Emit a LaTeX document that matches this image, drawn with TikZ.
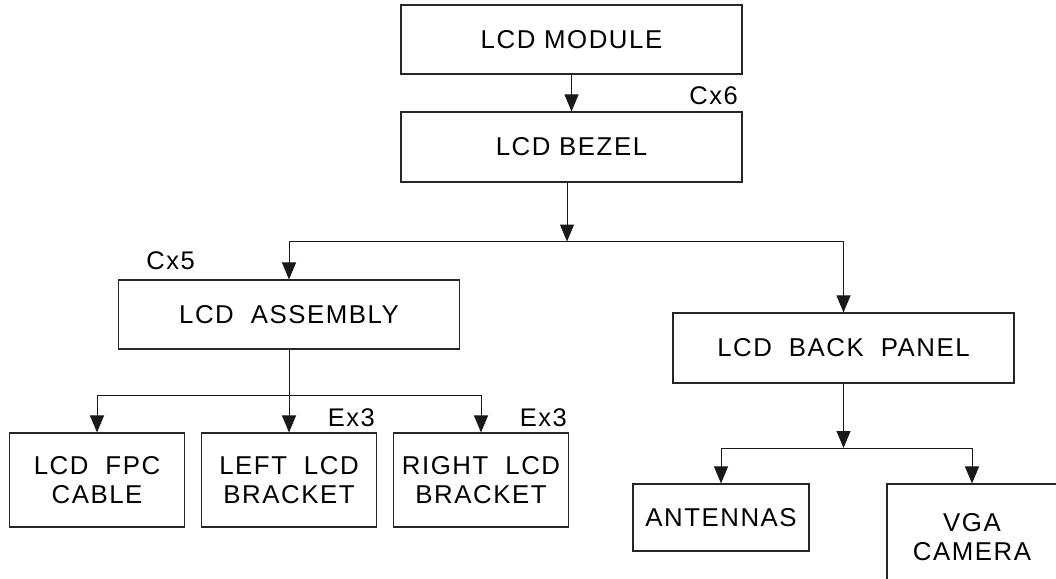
\documentclass[tikz,border=0pt]{standalone}
\usepackage{fontspec}
\setmainfont{Liberation Sans}[LetterSpace=6]
\usetikzlibrary{arrows.meta}
\newcommand\wsp{\hspace{17pt}}
\begin{document}
\begin{tikzpicture}[x=1pt,y=-1pt,
  box/.style={draw=black!85, line width=1.1pt, rectangle, inner sep=0pt, align=center,
    font=\fontsize{25.8}{29.4}\selectfont},
  qty/.style={inner sep=0pt, anchor=east, font=\fontsize{25.5}{28}\selectfont},
  link/.style={draw=black!90, line width=1pt},
  arr/.style={link, -{Triangle[length=17pt,width=14pt]}}]
\useasboundingbox (0,0) rectangle (1056,578);
\clip (0,0) rectangle (1056,578);

\node[box, minimum width=341pt, minimum height=69pt] (module) at (571.5,39.5) {LCD MODULE};
\node[box, minimum width=341pt, minimum height=70pt] (bezel) at (571.5,147) {LCD BEZEL};
\node[qty] (cx6) at (738,96) {Cx6};

\node[box, minimum width=341pt, minimum height=69pt] (asm) at (289,314.5) {LCD\wsp ASSEMBLY};
\node[qty] (cx5) at (195,261) {Cx5};

\node[box, minimum width=341pt, minimum height=70pt] (bp) at (843.5,348) {LCD\wsp BACK\wsp PANEL};

\node[box, minimum width=175pt, minimum height=94pt] (fpc) at (97,480) {LCD\wsp FPC\\CABLE};
\node[box, minimum width=175pt, minimum height=94pt] (lbr) at (289,480) {LEFT\wsp LCD\\BRACKET};
\node[box, minimum width=175pt, minimum height=94pt] (rbr) at (481,480) {RIGHT\wsp LCD\\BRACKET};
\node[qty] (ex3a) at (375,418) {Ex3};
\node[qty] (ex3b) at (567,418) {Ex3};

\node[box, minimum width=176pt, minimum height=67pt] (ant) at (721,517.5) {ANTENNAS};
\node[box, minimum width=170pt, minimum height=106pt] (vga) at (972,537) {VGA\\CAMERA};

\coordinate (j1) at (567,241.5);
\coordinate (j2) at (289,395.7);
\coordinate (j3) at (843.5,448);

\draw[arr] (module) -- (bezel);
\draw[arr] (bezel.south -| j1) -- (j1);
\draw[arr] (j1) -| (asm.north);
\draw[arr] (j1) -| (bp.north);

\draw[link] (asm.south) -- (j2);
\draw[arr] (j2) -| (fpc.north);
\draw[arr] (j2) -- (lbr.north);
\draw[arr] (j2) -| (rbr.north);

\draw[arr] (bp.south) -- (j3);
\draw[arr] (j3) -| (ant.north);
\draw[arr] (j3) -| (vga.north);
\end{tikzpicture}
\end{document}
